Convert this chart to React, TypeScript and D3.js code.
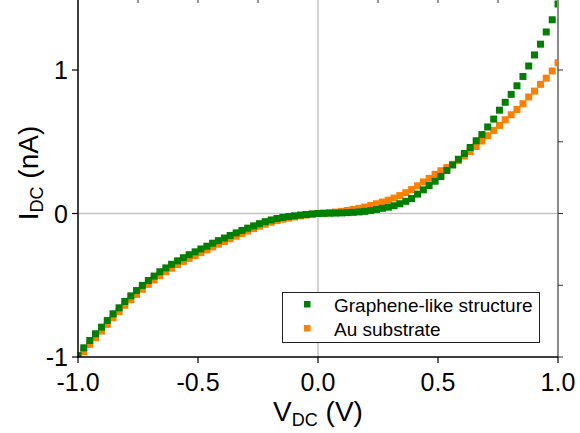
import React from "react";
import * as d3 from "d3";

const voltage = [
  -1.0, -0.976, -0.951, -0.927, -0.902, -0.878, -0.854, -0.829, -0.805, -0.78,
  -0.756, -0.732, -0.707, -0.683, -0.659, -0.634, -0.61, -0.585, -0.561, -0.537,
  -0.512, -0.488, -0.463, -0.439, -0.415, -0.39, -0.366, -0.341, -0.317, -0.293,
  -0.268, -0.244, -0.22, -0.195, -0.171, -0.146, -0.122, -0.098, -0.073, -0.049,
  -0.024, 0.0, 0.024, 0.049, 0.073, 0.098, 0.122, 0.146, 0.171, 0.195,
  0.22, 0.244, 0.268, 0.293, 0.317, 0.341, 0.366, 0.39, 0.415, 0.439,
  0.463, 0.488, 0.512, 0.537, 0.561, 0.585, 0.61, 0.634, 0.659, 0.683,
  0.707, 0.732, 0.756, 0.78, 0.805, 0.829, 0.854, 0.878, 0.902, 0.927,
  0.951, 0.976, 1.0,
];

const grapheneCurrent = [
  -0.99, -0.936, -0.885, -0.838, -0.792, -0.746, -0.699, -0.657, -0.613, -0.574,
  -0.537, -0.501, -0.467, -0.436, -0.406, -0.379, -0.354, -0.33, -0.308, -0.287,
  -0.267, -0.247, -0.228, -0.207, -0.189, -0.171, -0.153, -0.135, -0.118, -0.102,
  -0.086, -0.071, -0.057, -0.045, -0.035, -0.027, -0.021, -0.016, -0.011, -0.007,
  -0.003, 0.0, 0.001, 0.002, 0.003, 0.004, 0.006, 0.008, 0.011, 0.015,
  0.021, 0.028, 0.036, 0.044, 0.054, 0.068, 0.085, 0.104, 0.135, 0.165,
  0.195, 0.225, 0.258, 0.3, 0.338, 0.378, 0.418, 0.46, 0.507, 0.55,
  0.603, 0.658, 0.72, 0.775, 0.83, 0.89, 0.955, 1.028, 1.105, 1.18,
  1.265, 1.35, 1.46,
];

const auCurrent = [
  -1.01, -0.963, -0.912, -0.865, -0.819, -0.773, -0.726, -0.684, -0.64, -0.601,
  -0.564, -0.528, -0.494, -0.463, -0.433, -0.406, -0.381, -0.356, -0.334, -0.313,
  -0.293, -0.273, -0.254, -0.233, -0.214, -0.195, -0.176, -0.158, -0.14, -0.122,
  -0.105, -0.089, -0.075, -0.061, -0.049, -0.04, -0.032, -0.024, -0.017, -0.011,
  -0.005, 0.0, 0.003, 0.006, 0.01, 0.015, 0.021, 0.028, 0.036, 0.045,
  0.056, 0.068, 0.08, 0.093, 0.108, 0.125, 0.145, 0.167, 0.193, 0.22,
  0.245, 0.273, 0.298, 0.32, 0.343, 0.368, 0.4, 0.432, 0.467, 0.505,
  0.542, 0.579, 0.614, 0.653, 0.688, 0.725, 0.765, 0.812, 0.853, 0.9,
  0.943, 0.993, 1.05,
];

const xTicks = [-1.0, -0.5, 0.0, 0.5, 1.0];
const xTickLabels = ["-1.0", "-0.5", "0.0", "0.5", "1.0"];
const yTicks = [-1, 0, 1];
const yTickLabels = ["-1", "0", "1"];
const rightTicks = [-1, -0.5, 0, 0.5, 1];
const topTicks = [-0.75, -0.5, -0.25, 0.25, 0.5, 0.75];

const seriesNames = ["Graphene-like structure", "Au substrate"];
const seriesColors = ["#008000", "#ff8000"];

const W = 580;
const H = 433;
const left = 78;
const right = 558;
const bottom = 357;
const top = -3;

export default function App() {
  const x = d3.scaleLinear().domain([-1, 1]).range([left, right]);
  const y = d3.scaleLinear().domain([-1, 1]).range([bottom, 70]);
  const font = "'Liberation Sans', Arial, Helvetica, sans-serif";
  const ms = 7;

  const series = [
    { vals: auCurrent, color: seriesColors[1] },
    { vals: grapheneCurrent, color: seriesColors[0] },
  ];

  return (
    <svg
      width={W}
      height={H}
      style={{ position: "absolute", left: 0, top: 0, background: "#fff" }}
      fontFamily={font}
    >
      <defs>
        <clipPath id="plotClip">
          <rect x={left} y={top} width={right - left} height={bottom - top} />
        </clipPath>
      </defs>
      <rect x={0} y={0} width={W} height={H} fill="#fff" />
      {/* zero grid lines */}
      <line x1={x(0)} x2={x(0)} y1={top} y2={bottom} stroke="#c4c4c4" strokeWidth={1.5} />
      <line x1={left} x2={right} y1={y(0)} y2={y(0)} stroke="#c4c4c4" strokeWidth={1.5} />

      {/* data */}
      <g clipPath="url(#plotClip)">
        {series.map((s, si) => (
          <g key={si}>
            {voltage.map((v, i) => (
              <rect
                key={i}
                x={x(v) - ms / 2}
                y={y(s.vals[i]) - ms / 2}
                width={ms}
                height={ms}
                fill={s.color}
              />
            ))}
          </g>
        ))}
      </g>

      {/* right axis */}
      <line x1={right} x2={right} y1={top} y2={bottom} stroke="#8a8a8a" strokeWidth={2} />
      {rightTicks.map((t, i) => (
        <line key={i} x1={right} x2={right + 5} y1={y(t)} y2={y(t)} stroke="#333" strokeWidth={1} />
      ))}
      {/* top ticks */}
      {topTicks.map((t, i) => (
        <line key={i} x1={x(t)} x2={x(t)} y1={0} y2={3} stroke="#333" strokeWidth={1} />
      ))}

      {/* left axis */}
      <line x1={left} x2={left} y1={top} y2={bottom + 1} stroke="#000" strokeWidth={1.5} />
      {yTicks.map((t, i) => (
        <g key={i}>
          <line x1={left - 6} x2={left} y1={y(t)} y2={y(t)} stroke="#000" strokeWidth={1.2} />
          <text
            x={68}
            y={y(t)}
            dy="0.36em"
            textAnchor="end"
            fontSize={25}
            fill="#000"
          >
            {yTickLabels[i]}
          </text>
        </g>
      ))}

      {/* bottom axis */}
      <line x1={left - 1} x2={right} y1={bottom} y2={bottom} stroke="#000" strokeWidth={1.5} />
      {xTicks.map((t, i) => (
        <g key={i}>
          <line x1={x(t)} x2={x(t)} y1={bottom} y2={bottom + 6} stroke="#000" strokeWidth={1.2} />
          <text x={x(t)} y={391} textAnchor="middle" fontSize={25} fill="#000">
            {xTickLabels[i]}
          </text>
        </g>
      ))}

      {/* axis titles */}
      <text x={318} y={421} textAnchor="middle" fontSize={28} fill="#000">
        V
        <tspan fontSize={18} dy={5}>DC</tspan>
        <tspan dy={-5}> (V)</tspan>
      </text>
      <text
        transform={`translate(38,173) rotate(-90)`}
        textAnchor="middle"
        fontSize={28}
        fill="#000"
      >
        I
        <tspan fontSize={18} dy={5}>DC</tspan>
        <tspan dy={-5}> (nA)</tspan>
      </text>

      {/* legend */}
      <rect x={282.5} y={292.5} width={257} height={50} fill="#fff" stroke="#222" strokeWidth={1} />
      {seriesNames.map((name, i) => (
        <g key={i}>
          <rect x={304} y={301 + i * 24} width={6.5} height={6.5} fill={seriesColors[i]} />
          <text x={334} y={311.5 + i * 24} fontSize={19} fill="#000">
            {name}
          </text>
        </g>
      ))}
    </svg>
  );
}
